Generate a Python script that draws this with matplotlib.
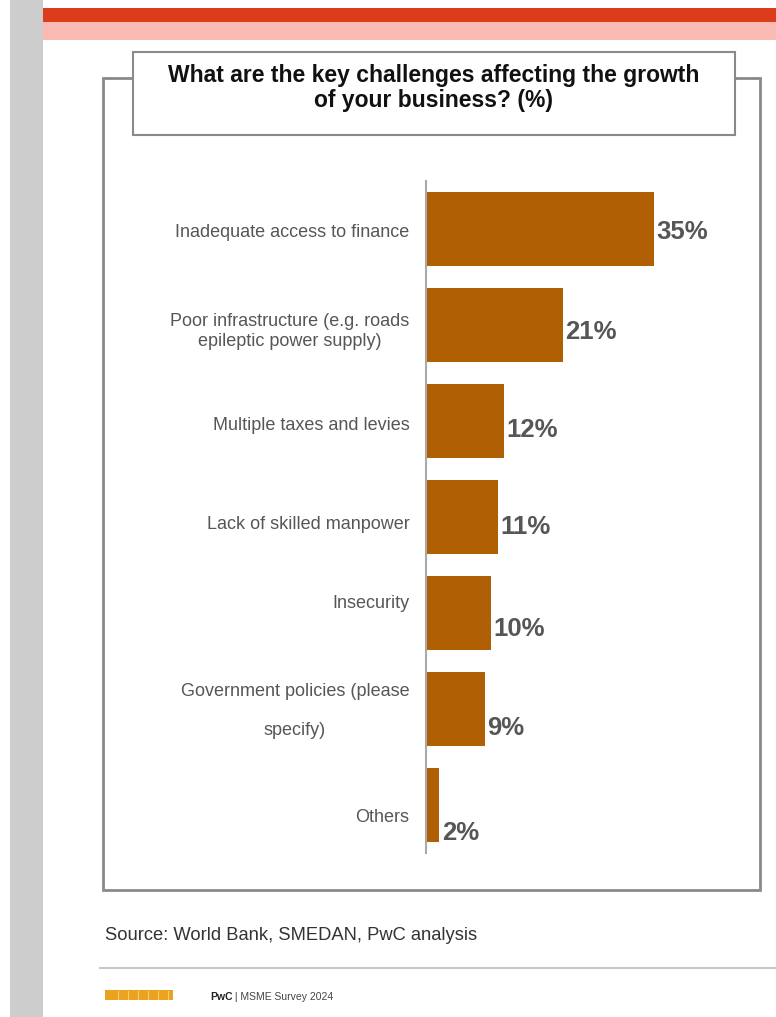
import matplotlib
matplotlib.use("Agg")
import matplotlib.pyplot as plt
from matplotlib.patches import Rectangle
import matplotlib.transforms as mtransforms

plt.rcParams["font.family"] = ["Liberation Sans", "DejaVu Sans"]

TITLE = "What are the key challenges affecting the growth\nof your business? (%)"
CATEGORIES = [
    "Inadequate access to finance",
    "Poor infrastructure (e.g. roads\nepileptic power supply)",
    "Multiple taxes and levies",
    "Lack of skilled manpower",
    "Insecurity",
    "Government policies (please\n\nspecify)",
    "Others",
]
VALUES = [35, 21, 12, 11, 10, 9, 2]
SOURCE = "Source: World Bank, SMEDAN, PwC analysis"
FOOTER_BRAND = "PwC"
FOOTER_TEXT = " | MSME Survey 2024"

BAR_COLOR = "#b15f04"
TEXT_GREY = "#565656"
FRAME_GREY = "#8a8a8a"

W, H = 776, 1017
fig = plt.figure(figsize=(W / 100, H / 100), dpi=100)
fig.patch.set_facecolor("white")


def px_axes(left, top, width, height, **kw):
    """Add axes positioned in pixel units measured from the top-left corner."""
    return fig.add_axes([left / W, 1 - (top + height) / H, width / W, height / H], **kw)


# page decoration layer in pixel coordinates
bg = px_axes(0, 0, W, H)
bg.set_xlim(0, W)
bg.set_ylim(H, 0)
bg.axis("off")

bg.add_patch(Rectangle((10, 0), 33, H, color="#cdcdcd", lw=0))
bg.add_patch(Rectangle((43, 8), W - 43, 14, color="#dc3b1c", lw=0))
bg.add_patch(Rectangle((43, 22), W - 43, 18, color="#f8bab2", lw=0))

# outer frame and title box
bg.add_patch(Rectangle((103, 78), 657, 812, fill=False, ec=FRAME_GREY, lw=2))
bg.add_patch(Rectangle((133, 52), 602, 83, fc="white", ec=FRAME_GREY, lw=1.5, zorder=3))
bg.text(434, 88, TITLE, ha="center", va="center", fontsize=16.5, fontweight="bold",
        color="#111111", linespacing=1.12, zorder=4)

# source and footer
bg.text(105, 936, SOURCE, ha="left", va="center", fontsize=13.2, color="#333333")
bg.plot([100, W], [968, 968], color="#c8c8c8", lw=1.5)
bg.add_patch(Rectangle((105, 990), 68, 10, color="#eba31f", lw=0))
for x in range(118, 170, 10):
    bg.plot([x, x], [991, 999], color="#f6cf7a", lw=0.8)
brand = bg.text(210, 997, FOOTER_BRAND, ha="left", va="center", fontsize=7.5,
                fontweight="bold", color="#222222")
fig.canvas.draw()
bg.annotate(FOOTER_TEXT, xycoords=brand, xy=(1, 0.5), va="center", ha="left",
            fontsize=7.5, color="#444444")

# bar chart
ax = px_axes(426, 181, 300, 672)
ax.set_facecolor("none")
n = len(VALUES)
ax.barh(range(n), VALUES, height=0.77, color=BAR_COLOR, left=0)
ax.set_xlim(0, 300 / 6.5)
ax.set_ylim(n - 0.5, -0.5)
for side in ["top", "right", "bottom"]:
    ax.spines[side].set_visible(False)
ax.spines["left"].set_color("#a9a9a9")
ax.spines["left"].set_linewidth(1.5)
ax.set_xticks([])
ax.set_yticks([])

# value labels sit a little lower on the shorter bars
value_drop = [-3, -7, -9, -10, -15, -18, -27]
for i, (v, dy) in enumerate(zip(VALUES, value_drop)):
    ax.annotate(f"{v}%", xy=(v, i), xytext=(2, dy * 0.75), textcoords="offset points",
                ha="left", va="center", fontsize=18.5, fontweight="bold", color=TEXT_GREY)

label_trans = mtransforms.blended_transform_factory(ax.transAxes, ax.transData)
label_drop = [-3, -6, -4, -7, 9, -2, -12]
for i, (cat, dy) in enumerate(zip(CATEGORIES, label_drop)):
    ax.annotate(cat, xy=(0, i), xycoords=label_trans, xytext=(-12, dy * 0.75),
                textcoords="offset points", ha="right", va="center", multialignment="center",
                fontsize=13, color=TEXT_GREY, linespacing=1.2)

fig.savefig("out.png", dpi=100, facecolor="white")
